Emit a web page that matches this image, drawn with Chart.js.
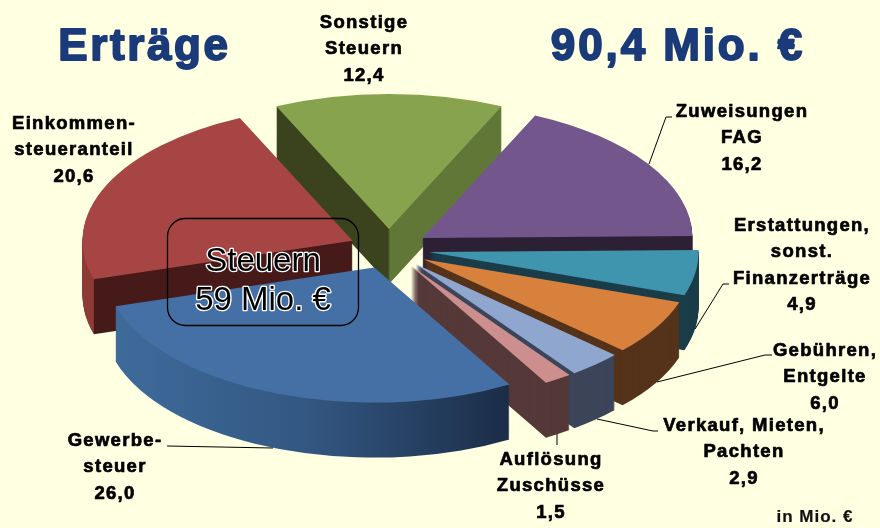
<!DOCTYPE html>
<html lang="de">
<head>
<meta charset="utf-8">
<title>Erträge</title>
<script src="https://cdn.jsdelivr.net/npm/chart.js@4.4.1/dist/chart.umd.min.js"></script>
<style>
  html, body { margin: 0; padding: 0; background: #ffffe1; }
  canvas { display: block; }
</style>
</head>
<body>
<canvas id="pieCanvas" width="880" height="528"></canvas>

<script>
const categories = [
  ["Sonstige", "Steuern"],
  ["Zuweisungen", "FAG"],
  ["Erstattungen,", "sonst.", "Finanzerträge"],
  ["Gebühren,", "Entgelte"],
  ["Verkauf, Mieten,", "Pachten"],
  ["Auflösung", "Zuschüsse"],
  ["Gewerbe-", "steuer"],
  ["Einkommen-", "steueranteil"]
];
const values = [12.4, 16.2, 4.9, 6.0, 2.9, 1.5, 26.0, 20.6];
const titleLeft = "Erträge";
const titleRight = "90,4 Mio. €";
const boxLines = ["Steuern", "59 Mio. €"];
const unitNote = "in Mio. €";

// colours, same order as categories
const topColors = ["#87a34d", "#73578c", "#4095ae", "#d7813c", "#8fa6cf", "#cc8f8e", "#4570a6", "#a64544"];
const wallColors = ["#617737", "#2d2135", "#1b3d49", "#55331a", "#3c4559", "#553838", "#1b2d47", "#451a19"];

// back to front
const paintOrder = [0, 7, 1, 2, 3, 4, 5, 6];

// label centre x and first baseline
const labelPos = [
  [364, 28], [742, 117], [802, 231], [825, 356],
  [744, 431], [551, 465], [115, 446], [74, 129]
];
const leaders = [
  [[649, 164], [666, 117], [672, 117]],
  [[695, 329], [723, 284], [729, 284]],
  [[657, 382], [765, 355], [772, 355]],
  [[597, 419], [653, 431], [658, 431]],
  [[557, 434], [557, 445]],
  [[167, 446], [273, 448]]
];

const squash = 0.5;
const explode = 40;
const depth = 55;
const total = values.reduce((a, b) => a + b, 0);

function wedge(ctx, arc) {
  ctx.beginPath();
  ctx.moveTo(arc.x, arc.y);
  ctx.arc(arc.x, arc.y, arc.outerRadius, arc.startAngle, arc.endAngle);
  ctx.closePath();
  ctx.fill();
}

function wallFill(ctx, i, arc) {
  const r = arc.outerRadius;
  if (i === 0) {
    // green wedge shows both cut faces, split at the tip
    const g = ctx.createLinearGradient(arc.x - 1, 0, arc.x + 1, 0);
    g.addColorStop(0, "#3a421e");
    g.addColorStop(1, wallColors[0]);
    return g;
  }
  if (i === 6) {
    const g = ctx.createLinearGradient(arc.x - r, 0, arc.x + r * 0.5, 0);
    g.addColorStop(0, "#3f6c9c");
    g.addColorStop(0.5, "#335782");
    g.addColorStop(1, wallColors[6]);
    return g;
  }
  if (i === 7) {
    // rim is lighter than the cut face
    const cx = arc.x + r * Math.cos(arc.startAngle);
    const g = ctx.createLinearGradient(cx - 0.5, 0, cx + 0.5, 0);
    g.addColorStop(0, "#8e3b38");
    g.addColorStop(1, wallColors[7]);
    return g;
  }
  return wallColors[i];
}

function heavyText(ctx, text, x, y, font, spacing, color, stroke) {
  ctx.font = font;
  ctx.letterSpacing = spacing + "px";
  ctx.fillStyle = color;
  ctx.strokeStyle = color;
  ctx.lineWidth = stroke;
  ctx.lineJoin = "round";
  ctx.textAlign = "center";
  ctx.textBaseline = "alphabetic";
  if (stroke > 0) ctx.strokeText(text, x, y);
  ctx.fillText(text, x, y);
  ctx.letterSpacing = "0px";
}

const pie3d = {
  id: "pie3d",
  beforeDatasetsDraw(chart) {
    const ctx = chart.ctx;
    const arcs = chart.getDatasetMeta(0).data;
    paintOrder.forEach(i => {
      const arc = arcs[i];
      const mid = (arc.startAngle + arc.endAngle) / 2;
      ctx.save();
      ctx.translate(0, arc.y);
      ctx.scale(1, squash);
      ctx.translate(0, -arc.y);
      ctx.translate(Math.cos(mid) * explode, Math.sin(mid) * explode);
      ctx.fillStyle = wallFill(ctx, i, arc);
      for (let d = depth; d > 0; d--) {
        ctx.save();
        ctx.translate(0, d / squash);
        wedge(ctx, arc);
        ctx.restore();
      }
      ctx.fillStyle = topColors[i];
      wedge(ctx, arc);
      ctx.restore();
    });
    return false;
  },
  afterDraw(chart) {
    const ctx = chart.ctx;
    const labelFont = "bold 18.5px 'Liberation Sans'";
    const titleFont = "bold 44px 'Liberation Sans'";

    ctx.save();
    heavyText(ctx, titleLeft, 144.5, 60, titleFont, 2.6, "#1a3a7a", 1.8);
    heavyText(ctx, titleRight, 678, 60, titleFont, 2.9, "#1a3a7a", 1.8);

    ctx.strokeStyle = "#000";
    ctx.lineWidth = 1;
    leaders.forEach(pts => {
      ctx.beginPath();
      pts.forEach((p, k) => k ? ctx.lineTo(p[0], p[1]) : ctx.moveTo(p[0], p[1]));
      ctx.stroke();
    });

    categories.forEach((lines, i) => {
      const [x, y] = labelPos[i];
      const all = lines.concat(values[i].toFixed(1).replace(".", ","));
      all.forEach((t, k) => {
        heavyText(ctx, t, x, y + k * 26.4, labelFont, 1.3, "#000", 0.7);
      });
    });

    heavyText(ctx, unitNote, 815, 522, "bold 17px 'Liberation Sans'", 1, "#111", 0.2);

    // Steuern box
    ctx.strokeStyle = "#000";
    ctx.lineWidth = 1.3;
    ctx.beginPath();
    ctx.roundRect(167.5, 218.5, 191, 107, 18);
    ctx.stroke();
    ctx.font = "33px 'Liberation Sans'";
    ctx.textAlign = "center";
    ctx.lineJoin = "round";
    boxLines.forEach((t, k) => {
      const y = 271 + k * 39;
      ctx.strokeStyle = "#fff";
      ctx.lineWidth = 2.6;
      ctx.strokeText(t, 263, y);
      ctx.fillStyle = "#000";
      ctx.fillText(t, 263, y);
    });
    ctx.restore();
  }
};

new Chart(document.getElementById("pieCanvas"), {
  type: "pie",
  data: {
    labels: categories.map(c => c.join(" ")),
    datasets: [{
      data: values,
      backgroundColor: topColors,
      borderWidth: 0
    }]
  },
  options: {
    responsive: false,
    animation: false,
    events: [],
    radius: 270,
    rotation: -(values[0] / total) * 180,
    layout: { padding: { right: 102, bottom: 30 } },
    plugins: {
      legend: { display: false },
      tooltip: { enabled: false }
    }
  },
  plugins: [pie3d]
});
</script>
</body>
</html>
